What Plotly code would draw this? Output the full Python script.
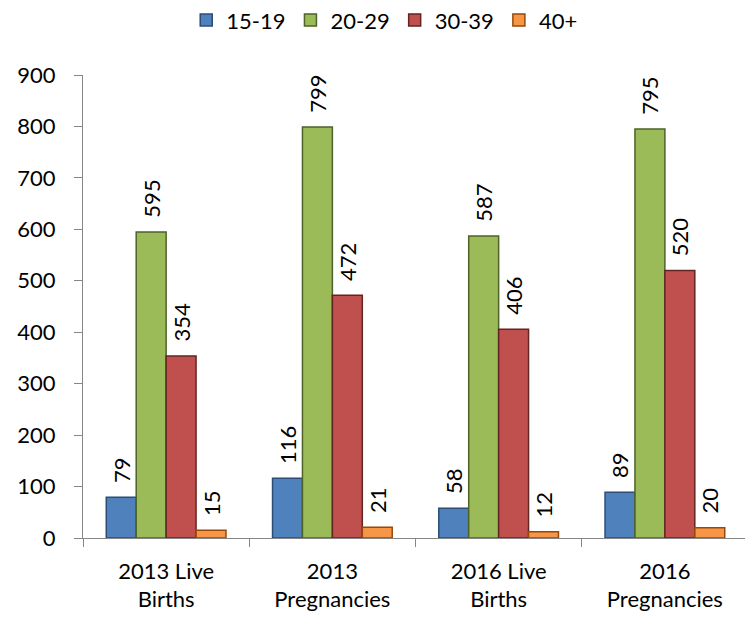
import plotly.graph_objects as go

categories = ["2013 Live<br>Births", "2013<br>Pregnancies", "2016 Live<br>Births", "2016<br>Pregnancies"]
series_names = ["15-19", "20-29", "30-39", "40+"]
values_15_19 = [79, 116, 58, 89]
values_20_29 = [595, 799, 587, 795]
values_30_39 = [354, 472, 406, 520]
values_40_plus = [15, 21, 12, 20]
y_ticks = [0, 100, 200, 300, 400, 500, 600, 700, 800, 900]

colors = ["#4F81BD", "#9BBB59", "#C0504D", "#F79646"]
edges = ["#2C4D75", "#4F6228", "#632523", "#984807"]
FONT = "Lato"

fig = go.Figure()
for name, vals, c, e in zip(series_names,
                            [values_15_19, values_20_29, values_30_39, values_40_plus],
                            colors, edges):
    fig.add_trace(go.Bar(
        x=categories, y=vals, name=name,
        marker=dict(color=c, line=dict(color=e, width=1.5)),
        text=vals,
        texttemplate="\u00a0\u00a0%{text}",
        textposition="outside",
        textangle=-90,
        textfont=dict(family=FONT, size=22, color="#000000"),
        constraintext="none",
        cliponaxis=False,
    ))

fig.update_layout(
    width=745, height=613,
    margin=dict(l=75, r=5, t=67, b=83),
    paper_bgcolor="white", plot_bgcolor="white",
    barmode="group", bargap=0.28, bargroupgap=0,
    font=dict(family=FONT, size=22, color="#000000"),
    showlegend=True,
    legend=dict(orientation="h", xref="container", yref="container",
                x=0.505, xanchor="center", y=0.98, yanchor="middle",
                font=dict(family=FONT, size=22), itemwidth=30,
                traceorder="normal"),
)
fig.update_yaxes(range=[0, 900], tickvals=y_ticks, showgrid=False, zeroline=False,
                 showline=True, linecolor="#868686", linewidth=1.3,
                 ticks="outside", ticklen=8, tickcolor="#868686",
                 tickfont=dict(family=FONT, size=22), ticklabelstandoff=14)
fig.update_xaxes(showgrid=False, showline=True, linecolor="#868686", linewidth=1.3,
                 ticks="outside", ticklen=8, tickcolor="#868686", tickson="boundaries",
                 tickfont=dict(family=FONT, size=22), ticklabelstandoff=13)

fig.write_html("out.html")
